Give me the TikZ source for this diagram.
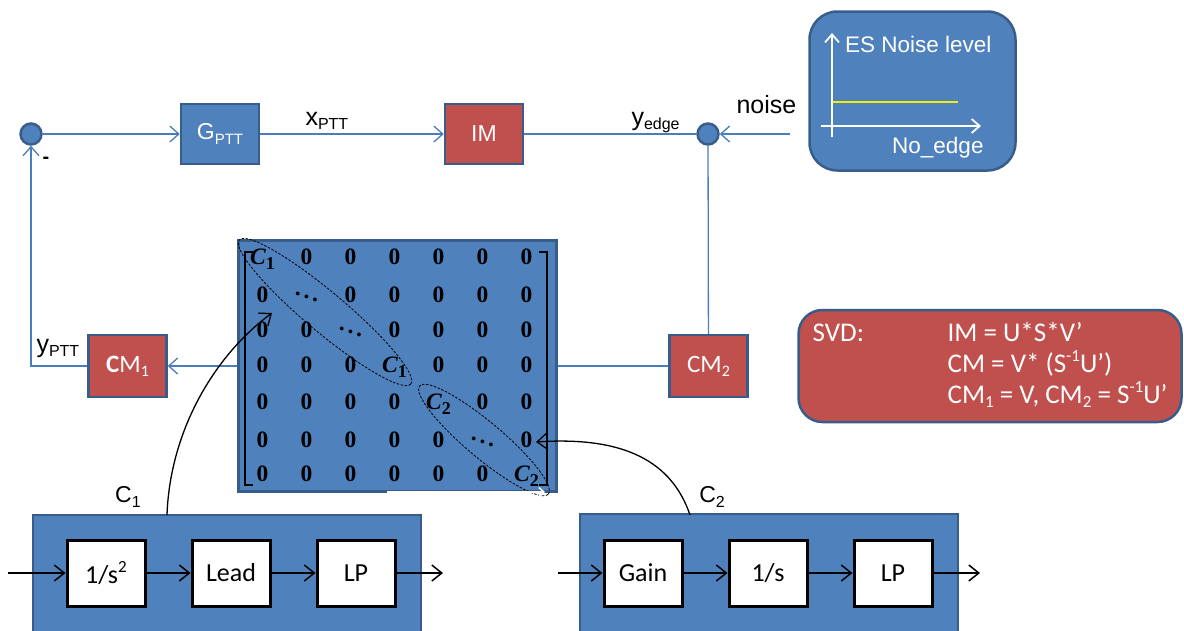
\documentclass[tikz,border=0pt]{standalone}
\usepackage{fontspec}
\setmainfont{Liberation Sans}
\newfontfamily\calib{Carlito}
\newfontfamily\timesb{Liberation Serif}
\usetikzlibrary{arrows.meta,positioning,matrix}

\definecolor{pptblue}{HTML}{4F81BD}
\definecolor{pptedge}{HTML}{385D8A}
\definecolor{pptred}{HTML}{C0504D}
\definecolor{wireblue}{HTML}{4A7EBB}
\definecolor{levelyellow}{HTML}{F0F000}

\newcommand{\subtxt}[2][16]{\raisebox{-0.35ex}{\fontsize{#1}{#1}\selectfont #2}}
\newcommand{\suptxt}[2][16]{\raisebox{0.85ex}{\fontsize{#1}{#1}\selectfont #2}}
\newcommand{\cblk}[1]{\textit{C}\raisebox{-0.45ex}{\fontsize{18}{18}\selectfont #1}}

\begin{document}
\begin{tikzpicture}[x=1pt, y=-1pt,
  blk/.style={draw=pptedge, line width=2.5pt, fill=pptblue, minimum width=78pt, minimum height=60pt, text=white, font=\fontsize{23}{27}\selectfont},
  redblk/.style={blk, fill=pptred},
  sumpt/.style={circle, draw=pptedge, line width=2.5pt, fill=pptblue, minimum size=21pt, inner sep=0pt},
  panel/.style={draw=pptedge, line width=2.5pt, fill=pptblue},
  tf/.style={draw=black, line width=3pt, fill=white, minimum width=78pt, minimum height=66pt, font=\calib\fontsize{26}{30}\selectfont},
  matcell/.style={minimum width=44pt, minimum height=34.5pt, inner sep=0pt, font=\timesb\bfseries\fontsize{23.5}{23.5}\selectfont},
  sig/.style={-{Straight Barb[length=9pt, width=16pt]}, line width=1.3pt, color=wireblue},
  wire/.style={line width=1.3pt, color=wireblue},
  flow/.style={-{Straight Barb[length=10pt, width=16pt]}, line width=1.5pt},
  axisln/.style={-{Straight Barb[length=8pt, width=14pt]}, line width=1.8pt, white},
  ring/.style={draw, dash pattern=on 2.5pt off 1.5pt, line width=0.8pt},
  lbl/.style={font=\fontsize{25}{28}\selectfont},
]
\useasboundingbox (0,0) rectangle (1184,630);

% forward path
\node[sumpt] (sumL) at (31,134) {};
\node[blk] (gptt) at (220,134) {G\subtxt[15]{PTT}};
\node[redblk] (im) at (484,134) {IM};
\node[sumpt] (sumR) at (708,134) {};
\coordinate (noisein) at (790,134);

\draw[sig] (sumL) -- (gptt);
\draw[sig] (gptt) -- (im);
\draw[wire] (im) -- (sumR);
\draw[sig] (noisein) -- (sumR);

\node[lbl, anchor=base west] (xlbl) at (302,125) {x\subtxt{PTT}};
\node[lbl, anchor=base west] (yelbl) at (628,125) {y\subtxt{edge}};
\node[lbl, anchor=base west] (noiselbl) at (733,113) {noise};
\node[font=\bfseries\fontsize{20}{20}\selectfont] (minus) at (46,160) {-};

% noise level panel
\node[panel, rounded corners=28pt, minimum width=206pt, minimum height=159pt] (esbox) at (912.5,91) {};
\draw[axisln] (832,137) -- (832,33);
\draw[axisln] (821,126) -- (981,126);
\draw[levelyellow, line width=1.8pt] (833,102) -- (958,102);
\node[anchor=base west, text=white, font=\fontsize{22.5}{26}\selectfont, inner sep=0pt] (eslbl) at (845,52) {ES Noise level};
\node[anchor=base west, text=white, font=\fontsize{22.5}{26}\selectfont, inner sep=0pt] (nolbl) at (892,153) {No\_edge};

% feedback path
\node[redblk, font=\calib\fontsize{25}{28}\selectfont, minimum height=62pt] (cm2) at (708.5,366) {CM\subtxt{2}};
\node[panel, minimum width=318pt, minimum height=251pt] (mat) at (397.5,366) {};
\node[redblk, font=\calib\fontsize{25}{28}\selectfont, minimum height=62pt] (cm1) at (127.5,366) {\textbf{C}M\subtxt{1}};

\draw[wire] (sumR) -- (cm2);
\draw[wire] (cm2) -- (mat);
\draw[sig] (mat) -- (cm1);
\draw[sig] (cm1) -| (sumL);
\node[lbl, anchor=base west] (yplbl) at (33,352) {y\subtxt{PTT}};

% block diagonal controller matrix
\matrix (ent) [matrix of nodes, nodes={matcell}] at (394.5,366.5) {
\cblk{1} & 0 & 0 & 0 & 0 & 0 & 0 \\
0 & $\ddots$ & 0 & 0 & 0 & 0 & 0 \\
0 & 0 & $\ddots$ & 0 & 0 & 0 & 0 \\
0 & 0 & 0 & \cblk{1} & 0 & 0 & 0 \\
0 & 0 & 0 & 0 & \cblk{2} & 0 & 0 \\
0 & 0 & 0 & 0 & 0 & $\ddots$ & 0 \\
0 & 0 & 0 & 0 & 0 & 0 & \cblk{2} \\
};
\draw[line width=1.2pt] (253,252) -- (245,252) -- (245,485) -- (253,485);
\draw[line width=1.2pt] (539,252) -- (547,252) -- (547,485) -- (539,485);
\draw[ring, rotate around={-40:(325,312)}] (325,312) ellipse [x radius=112pt, y radius=20pt];
\draw[ring, rotate around={-40:(484,440)}] (484,440) ellipse [x radius=84pt, y radius=18pt];
\draw[white, line width=1.5pt, -{Straight Barb[length=5pt, width=9pt]}] (387,492) -- (545,492);

% controller C1
\node[panel, minimum width=388pt, minimum height=128pt] (ctrlA) at (227,579) {};
\node[tf] (intA) at (106,573) {1/s\suptxt[17]{2}};
\node[tf, right=44pt of intA] (leadA) {Lead};
\node[tf, right=44pt of leadA] (lpA) {LP};
\coordinate (inA) at (8,573);
\coordinate (outA) at (443,573);
\draw[flow] (inA) -- (intA);
\draw[flow] (intA) -- (leadA);
\draw[flow] (leadA) -- (lpA);
\draw[flow] (lpA) -- (outA);
\node[font=\fontsize{23}{26}\selectfont] (capA) at (128,497) {C\subtxt{1}};

% controller C2
\node[panel, minimum width=378pt, minimum height=128pt] (ctrlB) at (769,578) {};
\node[tf] (gainB) at (643,573) {Gain};
\node[tf, right=44pt of gainB] (intB) {1/s};
\node[tf, right=44pt of intB] (lpB) {LP};
\coordinate (inB) at (558,573);
\coordinate (outB) at (980,573);
\draw[flow] (inB) -- (gainB);
\draw[flow] (gainB) -- (intB);
\draw[flow] (intB) -- (lpB);
\draw[flow] (lpB) -- (outB);
\node[font=\fontsize{23}{26}\selectfont] (capB) at (712,497) {C\subtxt{2}};

% which block goes where
\coordinate (tapA) at (167,515);
\coordinate (hitA) at (272,313);
\coordinate (tapB) at (690,515);
\coordinate (hitB) at (536,442);
\draw[flow, line width=1.3pt] (tapA) .. controls (170,430) and (215,355) .. (hitA);
\draw[flow, line width=1.3pt] (tapB) .. controls (672,462) and (625,436) .. (hitB);

% SVD note
\node[panel, fill=pptred, rounded corners=24pt, minimum width=383pt, minimum height=112pt, inner xsep=14pt, text=white, font=\calib\fontsize{27}{31}\selectfont] (svd) at (990,366) {%
\begin{tabular}{@{}p{135pt}@{}l@{}}
SVD: & IM = U*S*V’\\
 & CM = V* (S\suptxt[17]{-1}U’)\\
 & CM\subtxt[17]{1} = V, CM\subtxt[17]{2} = S\suptxt[17]{-1}U’
\end{tabular}};
\end{tikzpicture}
\end{document}
